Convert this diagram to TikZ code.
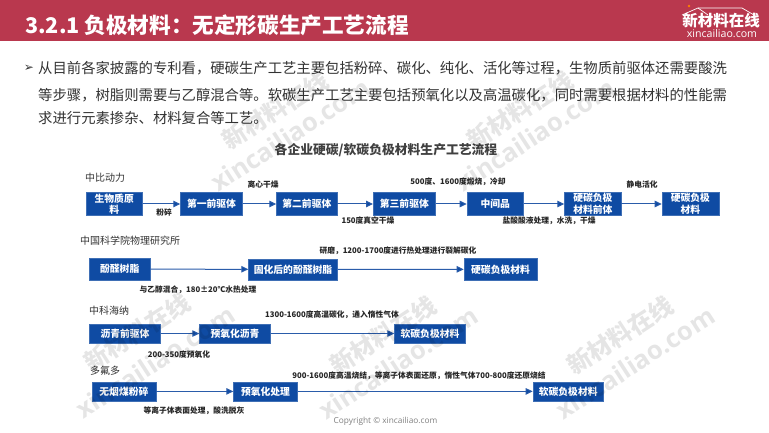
\documentclass[tikz,border=0pt]{standalone}
\usepackage{fontspec}
\usetikzlibrary{arrows.meta}
\setmainfont{Noto Sans CJK SC}
\newfontfamily\latinfont{Open Sans}
\newfontfamily\symfont{DejaVu Sans}
\definecolor{barred}{HTML}{B9384E}
\definecolor{boxblue}{HTML}{0F4BA3}
\definecolor{linkblue}{HTML}{2A5CAA}
\definecolor{bodytext}{HTML}{333333}
\tikzset{
  x=1pt,y=-1pt,
  procbox/.style={fill=boxblue,draw=boxblue!80!white,line width=.4pt,text=white,font=\fontsize{9.8}{11.5}\selectfont\bfseries,align=center,inner sep=0pt,anchor=north west},
  link/.style={draw=linkblue,line width=1pt,-{Triangle[length=7pt,width=6.5pt,fill=boxblue]}},
  steplabel/.style={text=black!85,font=\fontsize{7.75}{9}\selectfont\bfseries,inner sep=0pt,anchor=center},
  company/.style={text=bodytext,font=\fontsize{10}{11}\selectfont,inner sep=0pt,anchor=west},
  bodyline/.style={text=bodytext,font=\fontsize{14.35}{16}\selectfont,inner sep=0pt,anchor=west},
  markcn/.style={text=black,opacity=.10,rotate=33,font=\fontsize{24}{26}\selectfont\bfseries,inner sep=0pt},
  markurl/.style={text=black,opacity=.10,rotate=33,font=\fontsize{25.5}{27}\selectfont\latinfont\bfseries,inner sep=0pt},
}
\newcommand{\pbox}[6]{\node[procbox,minimum width=#4pt-#2pt,minimum height=#5pt-#3pt] (#1) at (#2,#3) {#6};}
\begin{document}
\begin{tikzpicture}
\useasboundingbox (0,0) rectangle (769,433);
\fill[white] (0,0) rectangle (769,433);
\fill[barred] (0,0) rectangle (769,41.5);
\node[text=white,font=\fontsize{21.6}{24}\selectfont\bfseries,inner sep=0pt,anchor=west] (title) at (25,25) {3.2.1 负极材料：无定形碳生产工艺流程};
% logo
\draw[white,line width=.7pt,line join=round] (682,15) -- (698,8) -- (742,8) -- (754,15);
\draw[white,line width=.7pt] (698,8) -- (708,15);
\fill[orange] (689,6) circle (1.3);
\node[text=white,font=\fontsize{15.5}{17}\selectfont\bfseries,inner sep=0pt] (logocn) at (721,21) {新材料在线};
\node[text=white,font=\fontsize{10.6}{12}\selectfont\latinfont,inner sep=0pt] (logourl) at (722,33.5) {xincailiao.com};
% body
\node[text=bodytext,font=\fontsize{12}{13}\selectfont\symfont\bfseries,inner sep=0pt] (bullet) at (29,68) {➢};
\node[bodyline] (l1) at (38,68) {从目前各家披露的专利看，硬碳生产工艺主要包括粉碎、碳化、纯化、活化等过程，生物质前驱体还需要酸洗};
\node[bodyline] (l2) at (38,95) {等步骤，树脂则需要与乙醇混合等。软碳生产工艺主要包括预氧化以及高温碳化，同时需要根据材料的性能需};
\node[bodyline] (l3) at (38,118.5) {求进行元素掺杂、材料复合等工艺。};
\node[text=black!75,font=\fontsize{12.8}{14}\selectfont\bfseries,inner sep=0pt] (head) at (386,150.5) {各企业硬碳/软碳负极材料生产工艺流程};
% row 1
\node[company] (c1) at (85,178) {中比动力};
\pbox{a1}{85.7}{192.3}{142.3}{215.3}{生物质原\\料}
\pbox{a2}{180.3}{192.3}{242.3}{215.3}{第一前驱体}
\pbox{a3}{276.3}{192.3}{337}{215.3}{第二前驱体}
\pbox{a4}{373}{192.3}{435.3}{215.3}{第三前驱体}
\pbox{a5}{466.7}{192.3}{523.3}{215.3}{中间品}
\pbox{a6}{564.3}{192.3}{621}{215.3}{硬碳负极\\材料前体}
\pbox{a7}{661.7}{192.3}{718.7}{215.3}{硬碳负极\\材料}
\foreach \p/\q in {a1/a2,a2/a3,a3/a4,a4/a5,a5/a6,a6/a7}{\draw[link] (\p) -- (\q);}
\node[steplabel] (t1) at (164,213) {粉碎};
\node[steplabel] (t2) at (263,184.5) {离心干燥};
\node[steplabel] (t3) at (368,221) {150度真空干燥};
\node[steplabel] (t4) at (458,181.5) {500度、1600度煅烧，冷却};
\node[steplabel] (t5) at (549,221) {盐酸酸液处理，水洗，干燥};
\node[steplabel] (t6) at (642,184.5) {静电活化};
% row 2
\node[company] (c2) at (80,240.5) {中国科学院物理研究所};
\pbox{b1}{89}{257.7}{150}{280.3}{酚醛树脂}
\pbox{b2}{248.3}{258.7}{337.3}{279.5}{固化后的酚醛树脂}
\pbox{b3}{463.7}{258.3}{537}{280}{硬碳负极材料}
\foreach \p/\q in {b1/b2,b2/b3}{\draw[link] (\p) -- (\q);}
\node[steplabel] (t7) at (198,289.5) {与乙醇混合，180±20℃水热处理};
\node[steplabel] (t8) at (398,250.5) {研磨，1200-1700度进行热处理进行裂解碳化};
% row 3
\node[company] (c3) at (89,310.5) {中科海纳};
\pbox{d1}{89.3}{324}{160.3}{342.7}{沥青前驱体}
\pbox{d2}{199.3}{324}{270.3}{342.7}{预氧化沥青}
\pbox{d3}{394.3}{324}{465.3}{342.7}{软碳负极材料}
\foreach \p/\q in {d1/d2,d2/d3}{\draw[link] (\p) -- (\q);}
\node[steplabel] (t9) at (179,354.5) {200-350度预氧化};
\node[steplabel] (t10) at (332,315) {1300-1600度高温碳化，通入惰性气体};
% row 4
\node[company] (c4) at (90,370.5) {多氟多};
\pbox{e1}{91.7}{381.7}{155.7}{400.7}{无烟煤粉碎}
\pbox{e2}{233.3}{381.7}{297.3}{400.7}{预氧化处理}
\pbox{e3}{532.7}{381.7}{603.3}{400.7}{软碳负极材料}
\foreach \p/\q in {e1/e2,e2/e3}{\draw[link] (\p) -- (\q);}
\node[steplabel] (t11) at (194,411) {等离子体表面处理，酸洗脱灰};
\node[steplabel] (t12) at (419,376) {900-1600度高温烧结，等离子体表面还原，惰性气体700-800度还原烧结};
\node[text=black!50,font=\fontsize{8.3}{9}\selectfont\latinfont,inner sep=0pt] (copy) at (385.5,421) {Copyright © xincailiao.com};
% watermarks
\foreach \n/\cx/\cy/\ux/\uy in {A/275/110/290/135,B/520/110/535/135,C/137/332/155/362,D/383/335/398/363,E/620/335/635/363}{
  \node[markcn] (w\n) at (\cx,\cy) {新材料在线};
  \node[markurl] (u\n) at (\ux,\uy) {xincailiao.com};
}
\end{tikzpicture}
\end{document}
